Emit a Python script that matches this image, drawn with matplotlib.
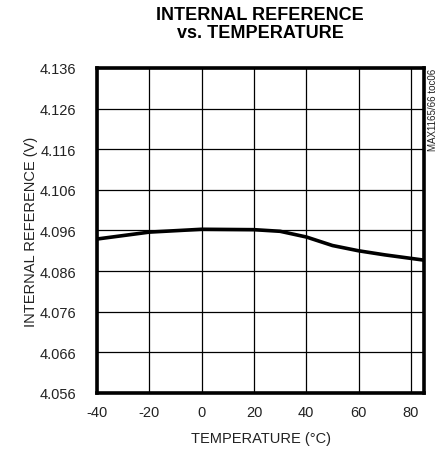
import matplotlib
matplotlib.use('Agg')
import matplotlib.pyplot as plt
import numpy as np

# data
temp = [-40, -20, 0, 20, 30, 40, 50, 60, 70, 85]
vref = [4.0939, 4.0956, 4.0963, 4.0962, 4.0958, 4.0944, 4.0923, 4.0910, 4.0900, 4.0887]
xticks = [-40, -20, 0, 20, 40, 60, 80]
yticks = [4.056, 4.066, 4.076, 4.086, 4.096, 4.106, 4.116, 4.126, 4.136]

plt.rcParams['font.family'] = ['Liberation Sans', 'DejaVu Sans']
plt.rcParams['axes.unicode_minus'] = False

fig = plt.figure(figsize=(4.41, 4.56), dpi=100)
ax = fig.add_axes([0.220, 0.136, 0.7415, 0.7127])

ax.plot(temp, vref, color='black', lw=2.6, solid_capstyle='butt')

ax.set_xlim(-40, 85)
ax.set_ylim(4.056, 4.136)
ax.set_xticks(xticks)
ax.set_yticks(yticks)
ax.set_yticklabels(['%.3f' % v for v in yticks])
ax.tick_params(axis='y', length=0, labelsize=10.5, pad=15, colors='#222222')
ax.tick_params(axis='x', length=0, labelsize=10.5, pad=9, colors='#222222')
ax.grid(True, color='black', lw=0.9)
for s in ax.spines.values():
    s.set_linewidth(2.6)

ax.set_xlabel('TEMPERATURE (°C)', fontsize=10.5, labelpad=8, color='#222222')
ax.set_ylabel('INTERNAL REFERENCE (V)', fontsize=10.5, labelpad=1, color='#222222')

fig.text(0.59, 0.985, 'INTERNAL REFERENCE\nvs. TEMPERATURE', ha='center', va='top',
         fontsize=13, fontweight='bold', linespacing=1.1)
fig.text(0.981, 0.76, 'MAX1165/66 toc06', rotation=90, ha='center', va='center',
         fontsize=7, color='#222222')

fig.savefig('out.png', dpi=100)
